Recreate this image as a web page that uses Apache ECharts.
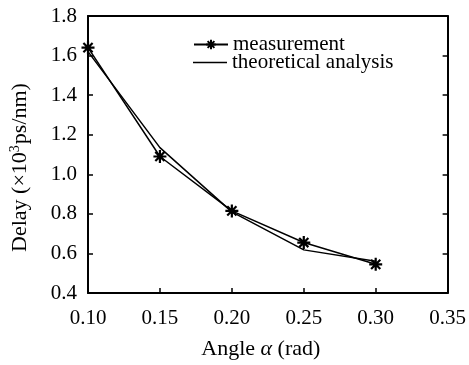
<!DOCTYPE html>
<html><head><meta charset="utf-8">
<script src="https://cdn.jsdelivr.net/npm/echarts@6/dist/echarts.min.js"></script>
<style>html,body{margin:0;padding:0;background:#fff}#c{width:469px;height:365px}</style>
</head><body><div id="c"></div>
<script>
const angles = [0.10, 0.15, 0.20, 0.25, 0.30];
const measurement = [1.64, 1.09, 0.815, 0.655, 0.545];
const theoretical = [1.62, 1.135, 0.81, 0.618, 0.56];
const xTicks = [0.10, 0.15, 0.20, 0.25, 0.30, 0.35];
const yTicks = [0.4, 0.6, 0.8, 1.0, 1.2, 1.4, 1.6, 1.8];

const F = 'Liberation Serif';
const star = 'path://M6 0L6 12M0 6L12 6M1.76 1.76L10.24 10.24M1.76 10.24L10.24 1.76';
const chart = echarts.init(document.getElementById('c'));
const legText = {fontFamily: F, fontSize: 21, color: '#000', lineHeight: 20};
chart.setOption({
  animation: false,
  textStyle: {fontFamily: F, color: '#000'},
  grid: {left: 88, top: 16, right: 19, bottom: 71, containLabel: false},
  legend: [{
    orient: 'vertical', left: 193, top: 34, padding: 0, itemWidth: 34, itemHeight: 12, itemGap: 0,
    textStyle: legText, data: ['measurement']
  }, {
    orient: 'vertical', left: 193, top: 52, padding: 0, itemWidth: 34, itemHeight: 1.5, itemGap: 0,
    textStyle: legText, data: [{name: 'theoretical analysis', icon: 'rect'}]
  }],
  xAxis: [{
    type: 'value', min: xTicks[0], max: xTicks[xTicks.length-1], interval: 0.05,
    axisLine: {lineStyle: {color: '#000', width: 2}},
    axisTick: {inside: true, length: 5, lineStyle: {color: '#000', width: 1.5}},
    axisLabel: {fontFamily: F, fontSize: 21, color: '#000', margin: 15, formatter: v => v.toFixed(2)},
    splitLine: {show: false},
    name: 'Angle {i|α} (rad)', nameLocation: 'middle', nameGap: 45,
    nameTextStyle: {fontFamily: F, fontSize: 22, color: '#000', padding: [0, 14, 0, 0],
      rich: {i: {fontFamily: F, fontStyle: 'italic', fontSize: 22}}}
  }, {
    type: 'value', position: 'top', min: xTicks[0], max: xTicks[xTicks.length-1], interval: 0.05,
    axisLine: {show: true, lineStyle: {color: '#000', width: 2}},
    axisTick: {show: false}, axisLabel: {show: false}, splitLine: {show: false}
  }],
  yAxis: [{
    type: 'value', min: yTicks[0], max: yTicks[yTicks.length-1], interval: 0.2,
    axisLine: {show: true, lineStyle: {color: '#000', width: 2}},
    axisTick: {show: true, inside: true, length: 5, lineStyle: {color: '#000', width: 1.5}},
    axisLabel: {fontFamily: F, fontSize: 21, color: '#000', margin: 11, formatter: v => v.toFixed(1)},
    splitLine: {show: false},
    name: 'Delay (×10{sup|3}ps/nm)', nameLocation: 'middle', nameGap: 56, nameRotate: 90,
    nameTextStyle: {fontFamily: F, fontSize: 22, color: '#000', padding: [0, 26, 0, 0],
      rich: {sup: {fontFamily: F, fontSize: 14, verticalAlign: 'bottom', padding: [0, 1, 10, 0]}}}
  }, {
    type: 'value', position: 'right', min: yTicks[0], max: yTicks[yTicks.length-1], interval: 0.2,
    axisLine: {show: true, lineStyle: {color: '#000', width: 2}},
    axisTick: {show: true, inside: true, length: 5, lineStyle: {color: '#000', width: 1.5}},
    axisLabel: {show: false}, splitLine: {show: false}
  }],
  series: [{
    name: 'measurement', type: 'line', data: angles.map((a, i) => [a, measurement[i]]),
    symbol: star, symbolSize: 13, showSymbol: true,
    lineStyle: {color: '#000', width: 1.5},
    itemStyle: {color: '#000', borderColor: '#000', borderWidth: 2.2}
  }, {
    name: 'theoretical analysis', type: 'line', data: angles.map((a, i) => [a, theoretical[i]]),
    symbol: 'none', lineStyle: {color: '#000', width: 1.5}, itemStyle: {color: '#000'}
  }]
});
</script></body></html>
